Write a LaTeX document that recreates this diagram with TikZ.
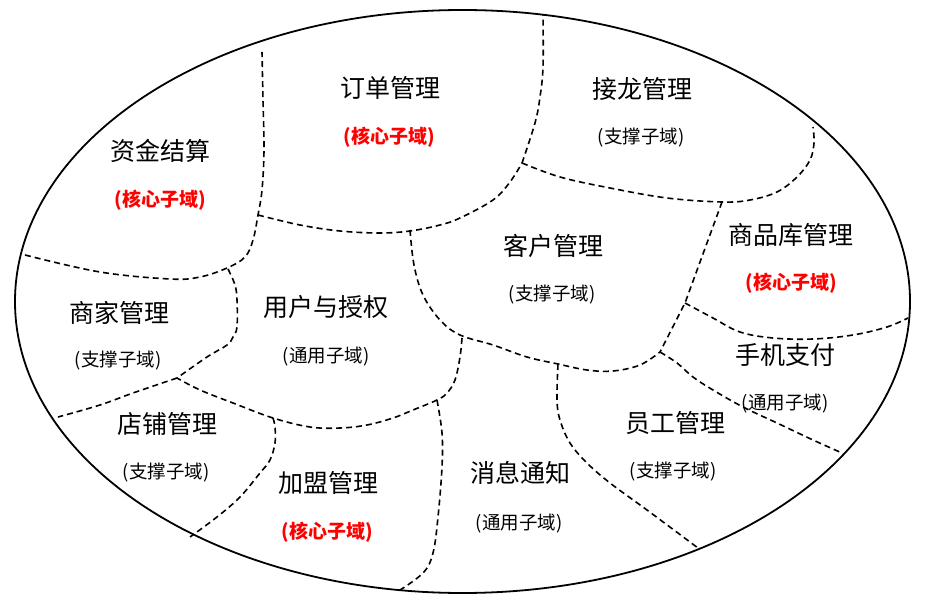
\documentclass[tikz,border=0pt]{standalone}
\usepackage{fontspec}
\newfontfamily\cjk{Noto Sans CJK SC}
\begin{document}
\begin{tikzpicture}[x=1pt,y=-1pt,
  region/.style={draw=black, line width=1.6pt, dash pattern=on 6pt off 4pt},
  outline/.style={draw=black, line width=1.8pt},
  mainlbl/.style={font=\cjk\fontsize{25}{27}\selectfont, inner sep=0pt},
  sublbl/.style={font=\cjk\fontsize{18.5}{20}\selectfont, inner sep=0pt},
  corelbl/.style={font=\cjk\bfseries\fontsize{19}{20}\selectfont, text=red, inner sep=0pt}]
\useasboundingbox (0,0) rectangle (932,612);
\fill[white] (0,0) rectangle (932,612);
% outer ellipse
\draw[outline] (462.5,301.5) ellipse [x radius=447.5, y radius=291.5];
% boundaries
\draw[region] plot[smooth, tension=0.6] coordinates {(25,255) (100,272) (170,279) (200,277) (227,268) (245,257) (253,240) (258,215) (262,190) (264,150) (263,100) (262,52)};
\draw[region] plot[smooth, tension=0.6] coordinates {(258,215) (300,225) (340,231) (380,233) (410,231) (440,225) (460,218) (493,200) (510,182) (522,163)};
\draw[region] plot[smooth, tension=0.6] coordinates {(522,163) (535,123) (540,97) (543,67) (543,15)};
\draw[region] plot[smooth, tension=0.6] coordinates {(522,163) (560,177) (610,188) (667,198) (722,202) (750,200) (777,192) (797,177) (810,160) (814,143) (813,127)};
\draw[region] (722,202) -- (685,303) -- (660,352);
\draw[region] plot[smooth, tension=0.6] coordinates {(685,303) (713,318) (740,332) (773,338) (813,339) (853,335) (887,327) (908,318)};
\draw[region] plot[smooth, tension=0.6] coordinates {(410,230) (414,265) (423,295) (440,320) (460,335) (493,345) (527,357) (558,364) (587,370) (613,371) (640,365) (660,352)};
\draw[region] plot[smooth, tension=0.6] coordinates {(462,338) (460,357) (455,380) (447,393) (437,400) (413,410) (393,418) (367,425) (340,428) (310,427) (273,418) (233,403) (200,390) (177,378)};
\draw[region] plot[smooth, tension=0.6] coordinates {(437,400) (442,433) (442,467) (438,517) (433,553) (423,573) (397,592)};
\draw[region] plot[smooth, tension=0.6] coordinates {(228,269) (235,285) (237,300) (237,327) (233,337) (227,345) (207,357) (177,378)};
\draw[region] plot[smooth, tension=0.6] coordinates {(177,378) (133,393) (100,405) (58,417)};
\draw[region] plot[smooth, tension=0.6] coordinates {(273,418) (275,427) (275,443) (270,460) (260,473) (240,497) (217,517) (190,537)};
\draw[region] plot[smooth, tension=0.6] coordinates {(558,364) (557,400) (560,420) (570,443) (587,463) (610,483) (647,510) (698,548)};
\draw[region] plot[smooth, tension=0.6] coordinates {(660,352) (677,363) (693,377) (713,390) (743,407) (777,423) (813,440) (842,453)};
% labels
\node[mainlbl] (zj) at (160,151) {资金结算};
\node[corelbl] (zjs) at (160,200) {(核心子域)};
\node[mainlbl] (dd) at (390,88) {订单管理};
\node[corelbl] (dds) at (389,137) {(核心子域)};
\node[mainlbl] (jl) at (642,89) {接龙管理};
\node[sublbl] (jls) at (641,138) {(支撑子域)};
\node[mainlbl] (kh) at (553,246) {客户管理};
\node[sublbl] (khs) at (552,295) {(支撑子域)};
\node[mainlbl] (sp) at (791,235) {商品库管理};
\node[corelbl] (sps) at (791,283) {(核心子域)};
\node[mainlbl] (sj) at (119,313) {商家管理};
\node[sublbl] (sjs) at (118,361) {(支撑子域)};
\node[mainlbl] (yh) at (326,307) {用户与授权};
\node[sublbl] (yhs) at (326,357) {(通用子域)};
\node[mainlbl] (dp) at (167,424) {店铺管理};
\node[sublbl] (dps) at (166,473) {(支撑子域)};
\node[mainlbl] (jm) at (328,483) {加盟管理};
\node[corelbl] (jms) at (327,532) {(核心子域)};
\node[mainlbl] (xx) at (520,473) {消息通知};
\node[sublbl] (xxs) at (519,524) {(通用子域)};
\node[mainlbl] (yg) at (675,423) {员工管理};
\node[sublbl] (ygs) at (673,472) {(支撑子域)};
\node[mainlbl] (sz) at (785,355) {手机支付};
\node[sublbl] (szs) at (785,404) {(通用子域)};
\end{tikzpicture}
\end{document}
